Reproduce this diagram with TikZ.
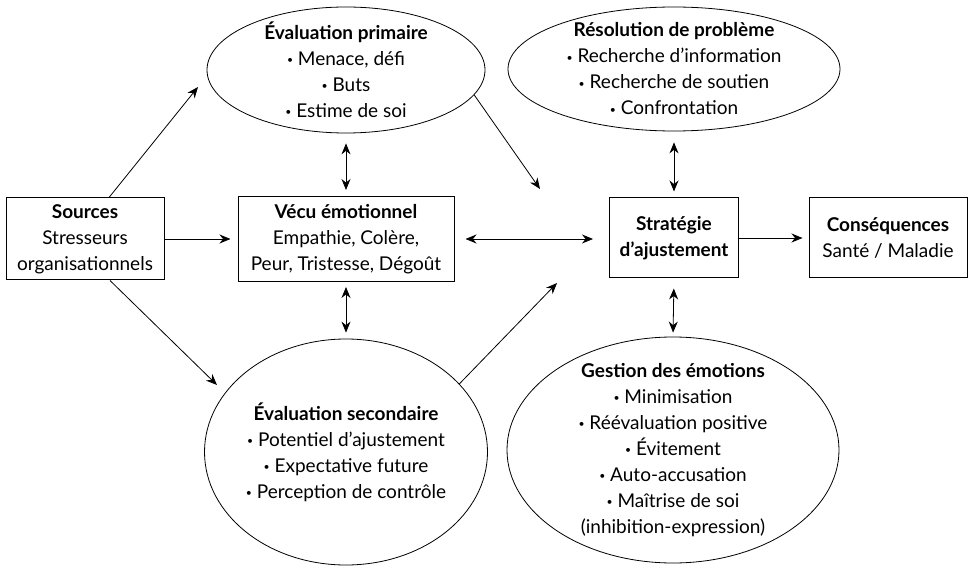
\documentclass[tikz,border=0pt]{standalone}
\usepackage{fontspec}
\setmainfont{Lato}
\usepackage{tikz}
\usetikzlibrary{shapes.geometric,arrows.meta}

\newcommand{\puce}{\raisebox{.2ex}{\scalebox{.55}{•}}\ }

\begin{document}
\begin{tikzpicture}[x=1pt,y=1pt,>={Stealth[length=11pt,width=9pt]},
	font=\fontsize{19}{26}\selectfont,
	boite/.style={draw,line width=1pt,rectangle,align=center,inner sep=2pt},
	ovale/.style={draw,ellipse,line width=0.8pt,align=center,inner xsep=0pt,inner ysep=-22pt},
	fleche/.style={->,line width=0.8pt},
	fleches/.style={<->,line width=0.8pt}]
				\useasboundingbox (0,0) rectangle (970,566);
				\node[boite,minimum width=158pt,minimum height=82pt] (src) at (85,327) {\textbf{Sources}\\Stresseurs\\organisationnels};
				\node[boite,minimum width=216pt,minimum height=85pt] (vecu) at (346,327) {\textbf{Vécu émotionnel}\\Empathie, Colère,\\Peur, Tristesse, Dégoût};
				\node[boite,minimum width=129pt,minimum height=80pt] (strat) at (674,328) {\textbf{Stratégie}\\\textbf{d’ajustement}};
				\node[boite,minimum width=158pt,minimum height=80pt] (csq) at (888,328) {\textbf{Conséquences}\\Santé / Maladie};
				\node[ovale,minimum width=278pt,minimum height=126pt] (prim) at (346,496) {\textbf{Évaluation primaire}\\\puce Menace, défi\\\puce Buts\\\puce Estime de soi};
				\node[ovale,minimum width=332pt,minimum height=124pt] (reso) at (674,497) {\textbf{Résolution de problème}\\\puce Recherche d’information\\\puce Recherche de soutien\\\puce Confrontation};
				\node[ovale,minimum width=278pt,minimum height=226pt] (sec) at (346,114) {\textbf{Évaluation secondaire}\\\puce Potentiel d’ajustement\\\puce Expectative future\\\puce Perception de contrôle};
				\node[ovale,minimum width=332pt,minimum height=226pt] (gest) at (673,116) {\textbf{Gestion des émotions}\\\puce Minimisation\\\puce Réévaluation positive\\\puce Évitement\\\puce Auto-accusation\\\puce Maîtrise de soi\\(inhibition-expression)};
				\coordinate (pa) at (198,479);
				\coordinate (pb) at (217,181);
				\coordinate (pc) at (540,377);
				\coordinate (pd) at (557,283);
				\draw[fleche] ([xshift=24pt]src.north) -- (pa);
				\draw[fleche] ([xshift=25pt]src.south) -- (pb);
				\draw[fleche,shorten >=7pt] (src.east) -- (vecu.west);
				\draw[fleches,shorten <=6pt,shorten >=10pt] (vecu.north) -- (prim.south);
				\draw[fleches,shorten <=5pt,shorten >=6pt] (vecu.south) -- (sec.north);
				\draw[fleches,shorten <=11pt,shorten >=16pt] (vecu.east) -- (vecu.east -| strat.west);
				\draw[fleches,shorten <=6pt,shorten >=11pt] (strat.north) -- (reso.south);
				\draw[fleches,shorten <=10pt,shorten >=4pt] (strat.south) -- (gest.north);
				\draw[fleche,shorten >=6pt] (strat.east) -- (csq.west);
				\draw[fleche] (prim.-11) -- (pc);
				\draw[fleche] (sec.31) -- (pd);
			\end{tikzpicture}
\end{document}
